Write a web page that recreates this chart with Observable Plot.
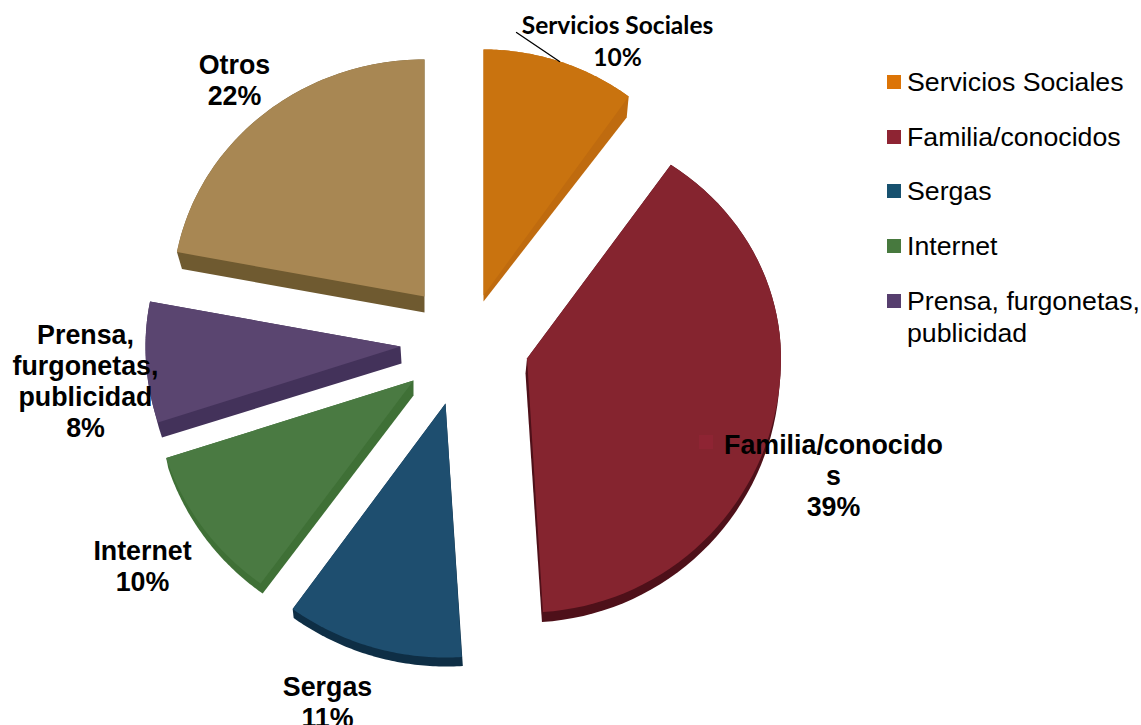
<!DOCTYPE html>
<html><head><meta charset="utf-8">
<style>html,body{margin:0;padding:0;background:#fff}svg{display:block}</style>
<script src="https://cdn.jsdelivr.net/npm/d3@7"></script>
<script src="https://cdn.jsdelivr.net/npm/@observablehq/plot@0.6"></script>
</head><body>
<script>
const categories = ["Servicios Sociales","Familia/conocidos","Sergas","Internet","Prensa, furgonetas, publicidad","Otros"];
const shares = [10,39,11,10,8,22];
const labelTexts = ["Servicios Sociales\n10%","Familia/conocido\ns\n39%","Sergas\n11%","Internet\n10%","Prensa,\nfurgonetas,\npublicidad\n8%","Otros\n22%"];
const legendTexts = ["Servicios Sociales","Familia/conocidos","Sergas","Internet","Prensa, furgonetas,\npublicidad"];
const faceColors = ["#c9730f","#85242f","#1e4e6f","#4a7a42","#5a4570","#a88753"];
const wallColors = ["#bf6b0f","#4e1019","#0e2e45","#3f7036","#43325a","#6f5a30"];
const keyColors = ["#dc7406","#8e2433","#17516f","#47793e","#563e6e"];

// Exploded-pie layout, one entry per slice
const apexX = [483,526.5,445,413,400,424];
const apexY = [295,358,403,380,346,296];
const radX = [247,254,260,260,255,252];
const radTop = [246,235,240,240,240,237];
const radBottom = [250,254,254,251,246,246];
const rimShift = [[-2,21],[-1,10],[1,9],[2,10],[4,15],[5,17]];
const apexShift = [[0,6],[-1.5,15],[0,0],[0,15],[1,17],[0,16]];
const startNudge = [0,-1.5,0,0,0,0]; // degrees, the perspective squeeze of the first edge

const fractions = d3.cumsum(shares).map(v => v / d3.sum(shares));
const toRad = t => t * 2 * Math.PI;

const faces = [], walls = [];
categories.forEach((name, i) => {
  const t0 = (i ? fractions[i-1] : 0) + startNudge[i] / 360, t1 = fractions[i];
  const rim = d3.range(0, 61).map(k => {
    const a = toRad(t0 + (t1 - t0) * k / 60), c = Math.cos(a);
    return [apexX[i] + radX[i] * Math.sin(a), apexY[i] - (c > 0 ? radTop[i] : radBottom[i]) * c, c];
  });
  const apex = [apexX[i], apexY[i]];
  [apex, ...rim].forEach(p => faces.push({name, x: p[0], y: p[1]}));
  const hull = d3.polygonHull([
    apex, ...rim.map(p => [p[0], p[1]]),
    [apex[0] + apexShift[i][0], apex[1] + apexShift[i][1]],
    ...rim.filter(p => p[2] < 0.9).map(p => [p[0] + rimShift[i][0], p[1] + rimShift[i][1]])
  ]);
  hull.forEach(p => walls.push({name, x: p[0], y: p[1]}));
});

// Label anchors
const labelX = [617,833,327,142,85,234];
const labelY = [39,475,701,565,380,79];
const labelFont = ["Lato","Liberation Sans","Liberation Sans","Liberation Sans","Liberation Sans","Liberation Sans"];
const labelSize = [24.5,26.8,26.8,26.8,26.8,26.8];
const labels = categories.map((c,i)=>({text:labelTexts[i],x:labelX[i],y:labelY[i],font:labelFont[i],size:labelSize[i]}));

const legendRowY = [82,137,191,246,301];
const legendRows = legendTexts.map((text,i)=>({text,color:keyColors[i],y:legendRowY[i]}));
const leader = [{x:516,y:32},{x:559,y:61}];
const keySquare = {x:706,y:442};

const chart = Plot.plot({
  width:1141, height:725, margin:0,
  x:{domain:[0,1141],range:[0,1141],axis:null},
  y:{domain:[0,725],range:[0,725],axis:null},
  color:{domain:categories,range:faceColors},
  style:{background:"#fff"},
  marks:[
    ...categories.map((name,i)=>Plot.line(walls.filter(d=>d.name===name),{x:"x",y:"y",fill:wallColors[i],stroke:"none",curve:"linear-closed"})),
    Plot.line(faces,{x:"x",y:"y",z:"name",fill:"name",stroke:"none",curve:"linear-closed"}),
    Plot.line(leader,{x:"x",y:"y",stroke:"#000",strokeWidth:1.3}),
    Plot.rect([keySquare],{x1:d=>d.x-7,x2:d=>d.x+7,y1:d=>d.y-7,y2:d=>d.y+7,fill:keyColors[1]}),
    ...labels.map(d=>Plot.text([d],{x:"x",y:"y",text:"text",fontFamily:d.font,fontSize:d.size,fontWeight:700,fill:"#000",lineHeight:d.font==="Lato"?1.3:1.157,textAnchor:"middle",lineAnchor:"middle"})),
    Plot.rect(legendRows,{x1:()=>887,x2:()=>901,y1:d=>d.y-7,y2:d=>d.y+7,fill:"color"}),
    Plot.text(legendRows,{x:()=>906.5,y:"y",text:"text",fontFamily:"Liberation Sans",fontSize:26.7,fill:"#000",textAnchor:"start",lineAnchor:"top",dy:-14,lineHeight:1.2})
  ]
});
document.body.appendChild(chart);
</script>
</body></html>
